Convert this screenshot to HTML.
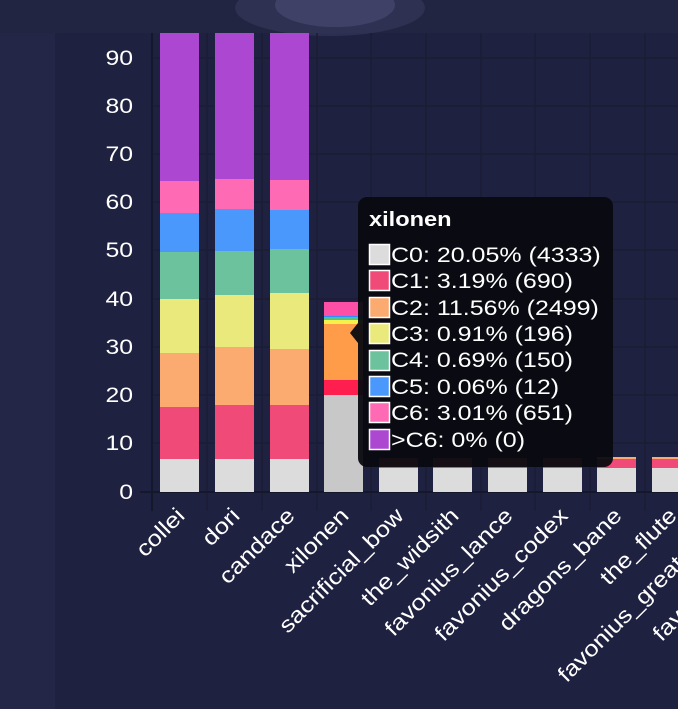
<!DOCTYPE html>
<html><head><meta charset="utf-8"><style>
html,body{margin:0;padding:0;background:#1f2240;}
svg{display:block;font-family:"Liberation Sans",sans-serif;}
</style></head><body>
<svg width="678" height="709" viewBox="0 0 678 709" xmlns="http://www.w3.org/2000/svg">
<rect x="0" y="0" width="678" height="709" fill="#1f2240"/>
<rect x="0" y="33" width="55" height="676" fill="#232647"/>
<rect x="55" y="33" width="623" height="676" fill="#1f2140"/>
<rect x="0" y="0" width="678" height="33" fill="#222541"/>
<ellipse cx="330" cy="8" rx="95" ry="28" fill="#3a3d63" opacity="0.5"/>
<ellipse cx="335" cy="5" rx="60" ry="22" fill="#55587f" opacity="0.45"/>
<g stroke="#1b1d35" stroke-width="1.5">
<line x1="152" y1="58" x2="678" y2="58"/><line x1="152" y1="106" x2="678" y2="106"/>
<line x1="152" y1="154" x2="678" y2="154"/><line x1="152" y1="202" x2="678" y2="202"/>
<line x1="152" y1="250" x2="678" y2="250"/><line x1="152" y1="299" x2="678" y2="299"/>
<line x1="152" y1="347" x2="678" y2="347"/><line x1="152" y1="395" x2="678" y2="395"/>
<line x1="152" y1="443" x2="678" y2="443"/>
<line x1="207" y1="33" x2="207" y2="511"/><line x1="262" y1="33" x2="262" y2="511"/>
<line x1="317" y1="33" x2="317" y2="511"/><line x1="371" y1="33" x2="371" y2="511"/>
<line x1="426" y1="33" x2="426" y2="511"/><line x1="481" y1="33" x2="481" y2="511"/>
<line x1="535" y1="33" x2="535" y2="511"/><line x1="590" y1="33" x2="590" y2="511"/>
<line x1="645" y1="33" x2="645" y2="511"/>
</g>
<line x1="152" y1="33" x2="152" y2="511" stroke="#15172a" stroke-width="2"/>
<line x1="140" y1="492" x2="678" y2="492" stroke="#15172a" stroke-width="2"/>
<g fill="#fff" font-size="21" text-anchor="end">
<text transform="translate(133,65) scale(1.18,1)">90</text>
<text transform="translate(133,113) scale(1.18,1)">80</text>
<text transform="translate(133,161) scale(1.18,1)">70</text>
<text transform="translate(133,209) scale(1.18,1)">60</text>
<text transform="translate(133,257) scale(1.18,1)">50</text>
<text transform="translate(133,306) scale(1.18,1)">40</text>
<text transform="translate(133,354) scale(1.18,1)">30</text>
<text transform="translate(133,402) scale(1.18,1)">20</text>
<text transform="translate(133,450) scale(1.18,1)">10</text>
<text transform="translate(133,499) scale(1.18,1)">0</text>
</g>
<g>
<rect x="160" y="33" width="39" height="148" fill="#ac47d2"/>
<rect x="160" y="181" width="39" height="32" fill="#fe6bb4"/>
<rect x="160" y="213" width="39" height="39" fill="#4a98fc"/>
<rect x="160" y="252" width="39" height="47" fill="#6cc29c"/>
<rect x="160" y="299" width="39" height="54" fill="#eae97b"/>
<rect x="160" y="353" width="39" height="54" fill="#fbaa70"/>
<rect x="160" y="407" width="39" height="52" fill="#f04a78"/>
<rect x="160" y="459" width="39" height="33" fill="#dcdcdc"/>

<rect x="215" y="33" width="39" height="146" fill="#ac47d2"/>
<rect x="215" y="179" width="39" height="30" fill="#fe6bb4"/>
<rect x="215" y="209" width="39" height="42" fill="#4a98fc"/>
<rect x="215" y="251" width="39" height="44" fill="#6cc29c"/>
<rect x="215" y="295" width="39" height="52" fill="#eae97b"/>
<rect x="215" y="347" width="39" height="58" fill="#fbaa70"/>
<rect x="215" y="405" width="39" height="54" fill="#f04a78"/>
<rect x="215" y="459" width="39" height="33" fill="#dcdcdc"/>

<rect x="270" y="33" width="39" height="147" fill="#ac47d2"/>
<rect x="270" y="180" width="39" height="30" fill="#fe6bb4"/>
<rect x="270" y="210" width="39" height="39" fill="#4a98fc"/>
<rect x="270" y="249" width="39" height="44" fill="#6cc29c"/>
<rect x="270" y="293" width="39" height="56" fill="#eae97b"/>
<rect x="270" y="349" width="39" height="56" fill="#fbaa70"/>
<rect x="270" y="405" width="39" height="54" fill="#f04a78"/>
<rect x="270" y="459" width="39" height="33" fill="#dcdcdc"/>

<rect x="324" y="302" width="39" height="14" fill="#fe4fa6"/>
<rect x="324" y="316" width="39" height="1" fill="#2f8cff"/>
<rect x="324" y="317" width="39" height="3" fill="#4fc488"/>
<rect x="324" y="320" width="39" height="4" fill="#f5f04a"/>
<rect x="324" y="324" width="39" height="56" fill="#ff9c4a"/>
<rect x="324" y="380" width="39" height="15" fill="#ff1f4f"/>
<rect x="324" y="395" width="39" height="97" fill="#c8c8c8"/>
</g>
<g>
<rect x="379" y="458" width="39" height="10" fill="#f04a78"/><rect x="379" y="468" width="39" height="24" fill="#dcdcdc"/>
<rect x="433" y="458" width="39" height="10" fill="#f04a78"/><rect x="433" y="468" width="39" height="24" fill="#dcdcdc"/>
<rect x="488" y="458" width="39" height="10" fill="#f04a78"/><rect x="488" y="468" width="39" height="24" fill="#dcdcdc"/>
<rect x="543" y="458" width="39" height="10" fill="#f04a78"/><rect x="543" y="468" width="39" height="24" fill="#dcdcdc"/>
<rect x="597" y="457" width="39" height="2" fill="#fbaa70"/><rect x="597" y="459" width="39" height="9" fill="#f04a78"/><rect x="597" y="468" width="39" height="24" fill="#dcdcdc"/>
<rect x="652" y="457" width="39" height="2" fill="#fbaa70"/><rect x="652" y="459" width="39" height="9" fill="#f04a78"/><rect x="652" y="468" width="39" height="24" fill="#dcdcdc"/>
</g>
<g fill="#fff" font-size="22" text-anchor="end">
<text transform="translate(186,517) rotate(-45) scale(1.16,1)">collei</text>
<text transform="translate(241,517) rotate(-45) scale(1.16,1)">dori</text>
<text transform="translate(296,517) rotate(-45) scale(1.16,1)">candace</text>
<text transform="translate(350,517) rotate(-45) scale(1.16,1)">xilonen</text>
<text transform="translate(405,517) rotate(-45) scale(1.16,1)">sacrificial_bow</text>
<text transform="translate(460,517) rotate(-45) scale(1.16,1)">the_widsith</text>
<text transform="translate(514,517) rotate(-45) scale(1.16,1)">favonius_lance</text>
<text transform="translate(569,517) rotate(-45) scale(1.16,1)">favonius_codex</text>
<text transform="translate(623,517) rotate(-45) scale(1.16,1)">dragons_bane</text>
<text transform="translate(678,517) rotate(-45) scale(1.16,1)">the_flute</text>
<text transform="translate(733,517) rotate(-45) scale(1.16,1)">favonius_greatsword</text>
<text transform="translate(787,517) rotate(-45) scale(1.16,1)">favonius_sword</text>
</g>
<g>
<path d="M358,323 L350,333 L358,343 Z" fill="#0a0b10" opacity="0.95"/>
<rect x="358" y="197" width="255" height="270" rx="9" fill="#0a0b10" opacity="0.95"/>
<text transform="translate(369,226) scale(1.18,1)" fill="#fff" font-size="20" font-weight="bold">xilonen</text>
<g stroke="#fff" stroke-width="1.5">
<rect x="369.5" y="244.5" width="20" height="20" fill="#dcdcdc"/>
<rect x="369.5" y="270.5" width="20" height="20" fill="#f04a78"/>
<rect x="369.5" y="297.5" width="20" height="20" fill="#fbaa70"/>
<rect x="369.5" y="323.5" width="20" height="20" fill="#eae97b"/>
<rect x="369.5" y="350.5" width="20" height="20" fill="#6cc29c"/>
<rect x="369.5" y="376.5" width="20" height="20" fill="#4a98fc"/>
<rect x="369.5" y="402.5" width="20" height="20" fill="#fe6bb4"/>
<rect x="369.5" y="429.5" width="20" height="20" fill="#ac47d2"/>
</g>
<g fill="#fff" font-size="21">
<text transform="translate(391,262) scale(1.19,1)">C0: 20.05% (4333)</text>
<text transform="translate(391,288) scale(1.19,1)">C1: 3.19% (690)</text>
<text transform="translate(391,315) scale(1.19,1)">C2: 11.56% (2499)</text>
<text transform="translate(391,341) scale(1.19,1)">C3: 0.91% (196)</text>
<text transform="translate(391,367) scale(1.19,1)">C4: 0.69% (150)</text>
<text transform="translate(391,394) scale(1.19,1)">C5: 0.06% (12)</text>
<text transform="translate(391,420) scale(1.19,1)">C6: 3.01% (651)</text>
<text transform="translate(391,447) scale(1.19,1)">&gt;C6: 0% (0)</text>
</g>
</g>
</svg>
</body></html>
